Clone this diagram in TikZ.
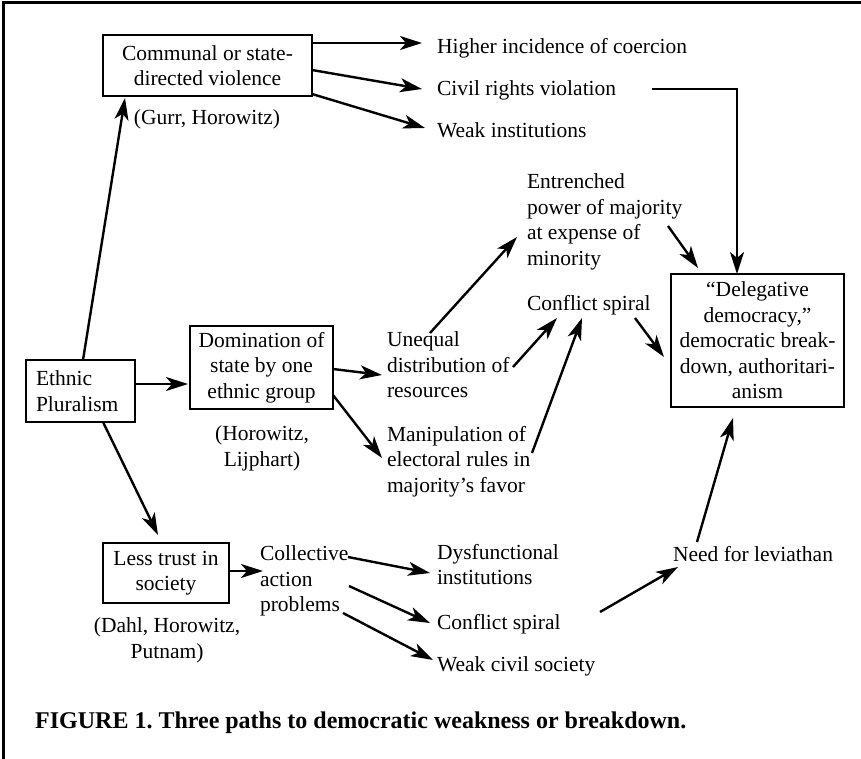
\documentclass[tikz,border=0pt]{standalone}
\usepackage{fontspec}
\setmainfont{Liberation Serif}
\usetikzlibrary{arrows.meta,calc}
\begin{document}
\begin{tikzpicture}[x=1pt,y=-1pt,
 fs/.style={font=\fontsize{21.5}{25.5}\selectfont},
 boxn/.style={fs, draw, line width=2.8pt, align=center, inner sep=0pt, outer sep=0pt},
 txt/.style={fs, inner sep=0pt, outer sep=0pt, align=left, anchor=north west, execute at begin node=\strut},
 ctxt/.style={fs, inner sep=0pt, outer sep=0pt, align=center, anchor=north, execute at begin node=\strut},
 arr/.style={line width=2.4pt, -{Stealth[length=22pt,width=14pt,inset=6pt]}},
]
\useasboundingbox (0,0) rectangle (861,759);
\draw[line width=3pt] (3,759) -- (3,3) -- (861,3);

% boxes
\node[boxn, minimum width=209pt, minimum height=61pt] (communal) at (207.5,65.5) {Communal or state-\\directed violence};
\node[boxn, minimum width=109pt, minimum height=62pt, text width=89pt, align=left] (ethnic) at (80.5,391) {Ethnic\\Pluralism};
\node[boxn, minimum width=143pt, minimum height=83pt] (domination) at (261.5,367.5) {Domination of\\state by one\\ethnic group};
\node[boxn, minimum width=173pt, minimum height=133pt] (deleg) at (757.5,340.5) {“Delegative\\democracy,”\\democratic break-\\down, authoritari-\\anism};
\node[boxn, minimum width=126pt, minimum height=60pt] (trust) at (166,573) {Less trust in\\society};

% texts
\node[txt] (higher) at (437,36) {Higher incidence of coercion};
\node[txt] (civil) at (437,78) {Civil rights violation};
\node[txt] (weakinst) at (437,120) {Weak institutions};
\node[txt] (entrenched) at (527,174) {Entrenched\\power of majority\\at expense of\\minority};
\node[txt] (conflicta) at (527,293) {Conflict spiral};
\node[txt] (unequal) at (387,332) {Unequal\\distribution of\\resources};
\node[txt] (manip) at (387,426) {Manipulation of\\electoral rules in\\majority’s favor};
\node[ctxt] (gurr) at (207,107) {(Gurr, Horowitz)};
\node[ctxt] (horlij) at (262,426) {(Horowitz,\\Lijphart)};
\node[ctxt] (dahl) at (167,618) {(Dahl, Horowitz,\\Putnam)};
\node[txt] (collective) at (260,546) {Collective\\action\\problems};
\node[txt] (dysf) at (437,544) {Dysfunctional\\institutions};
\node[txt] (conflictb) at (437,612) {Conflict spiral};
\node[txt] (weakcivil) at (437,654) {Weak civil society};
\node[txt] (leviathan) at (673,544) {Need for leviathan};
\node[font=\fontsize{24}{29}\selectfont\bfseries, inner sep=0pt, anchor=base west] (caption) at (35,728) {FIGURE 1.\ Three paths to democratic weakness or breakdown.};

% connectors
\draw[arr] ([shift={(0,8)}]communal.north east) -- ([shift={(-15,7)}]higher.north west);
\draw[arr] ([shift={(0,4.5)}]communal.east) -- ([shift={(-15,11)}]civil.north west);
\draw[arr] ([shift={(0,-2)}]communal.south east) -- ([shift={(-12,8)}]weakinst.north west);
\draw[arr] ([shift={(2.5,0)}]ethnic.north) -- ([shift={(22,2)}]communal.south west);
\draw[arr] ([shift={(0,-7)}]ethnic.east) -- ([shift={(-2,16.5)}]domination.west);
\draw[arr] ([shift={(22.5,0)}]ethnic.south) -- ([shift={(-8,-8)}]trust.north);
\draw[arr] ([shift={(0,1.5)}]domination.east) -- ([shift={(-5,43)}]unequal.north west);
\draw[arr] ([shift={(0,-14)}]domination.south east) -- ([shift={(-5,32)}]manip.north west);
\draw[arr] ([shift={(43,1)}]unequal.north west) -- ([shift={(-10,63)}]entrenched.north west);
\draw[arr] ([shift={(126,35)}]unequal.north west) -- ([shift={(30,25)}]conflicta.north west);
\draw[arr] ([shift={(145,27)}]manip.north west) -- ([shift={(55,25)}]conflicta.north west);
\draw[arr] ([shift={(141,52)}]entrenched.north west) -- ([shift={(27,-6)}]deleg.north west);
\draw[arr] ([shift={(108,25)}]conflicta.north west) -- ([shift={(-7,16.5)}]deleg.west);
\draw[arr] ([shift={(215,11)}]civil.north west) -| ([shift={(-20.5,0)}]deleg.north);
\draw[arr] ([shift={(0,-2)}]trust.east) -- ([shift={(3,25)}]collective.north west);
\draw[arr] ([shift={(88,11)}]collective.north west) -- ([shift={(-7,29)}]dysf.north west);
\draw[arr] ([shift={(89,40)}]collective.north west) -- ([shift={(-7,11)}]conflictb.north west);
\draw[arr] ([shift={(83,67)}]collective.north west) -- ([shift={(-4,6)}]weakcivil.north west);
\draw[arr] ([shift={(163,0)}]conflictb.north west) -- ([shift={(5,23)}]leviathan.north west);
\draw[arr] ([shift={(24,-2)}]leviathan.north west) -- ([shift={(-24.5,11)}]deleg.south);
\end{tikzpicture}
\end{document}
